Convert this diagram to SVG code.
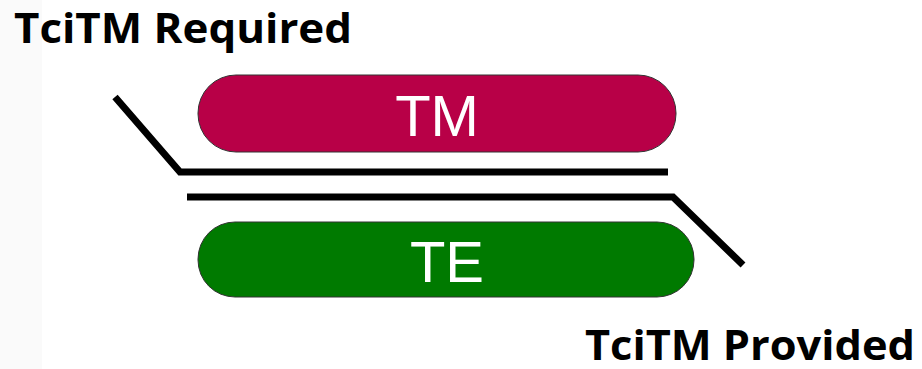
<svg xmlns="http://www.w3.org/2000/svg" width="922" height="369" viewBox="0 0 922 369">
<style>
.lbl{font-family:"Open Sans","Noto Sans","Liberation Sans",sans-serif;font-weight:bold;font-size:41px;fill:#000}
.pill{stroke:#333;stroke-width:1}
.ptxt{font-family:"Liberation Sans",Arial,sans-serif;font-size:58px;fill:#fff;text-anchor:middle}
.wire{fill:none;stroke:#000;stroke-width:7;stroke-linejoin:miter}
</style>
<rect x="0" y="0" width="922" height="369" fill="#fff"/>
<rect x="0" y="0" width="42" height="369" fill="#fafafa"/>
<g id="label-required"><text class="lbl" x="14" y="43" textLength="338" lengthAdjust="spacingAndGlyphs">TciTM Required</text></g>
<g id="label-provided"><text class="lbl" x="585" y="360" textLength="330" lengthAdjust="spacingAndGlyphs">TciTM Provided</text></g>
<g id="node-tm">
<rect class="pill" x="198" y="75" width="478" height="77" rx="38" ry="38" fill="#b80047"/>
<text class="ptxt" x="437" y="136">TM</text>
</g>
<g id="node-te">
<rect class="pill" x="198" y="222" width="496" height="75" rx="37" ry="37" fill="#007a00"/>
<text class="ptxt" x="447" y="282">TE</text>
</g>
<g id="connectors">
<polyline class="wire" points="115,97 180,172 668,172"/>
<polyline class="wire" points="187,197 673,197 743,265"/>
</g>
</svg>
